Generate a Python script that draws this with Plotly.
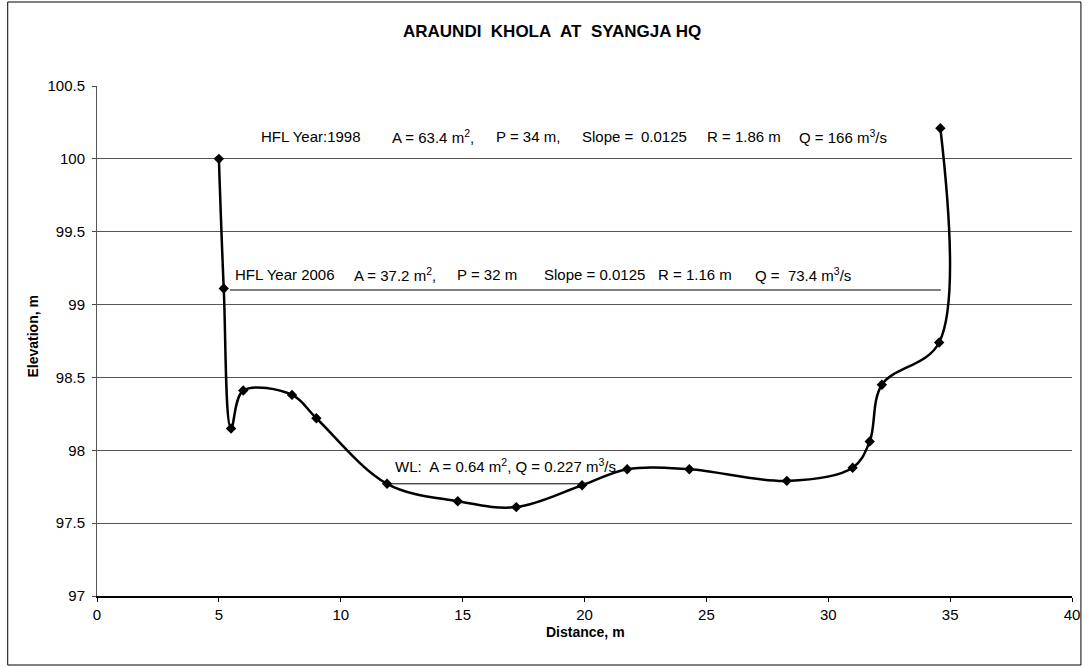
import plotly.graph_objects as go

# ---- data ----
distance = [5.0, 5.2, 5.5, 6.0, 8.0, 9.0, 11.9, 14.8, 17.2, 19.9, 21.75, 24.3,
            28.3, 31.0, 31.7, 32.2, 34.55, 34.6]
elevation = [100.0, 99.11, 98.15, 98.41, 98.38, 98.22, 97.77, 97.65, 97.61, 97.76,
             97.87, 97.87, 97.79, 97.88, 98.06, 98.45, 98.74, 100.21]
hfl2006_x = [5.45, 34.62]
hfl2006_y = [99.10, 99.10]
wl_x = [11.9, 19.9]
wl_y = [97.77, 97.77]

x_ticks = [0, 5, 10, 15, 20, 25, 30, 35, 40]
y_ticks = [97, 97.5, 98, 98.5, 99, 99.5, 100, 100.5]
y_tick_labels = ["97", "97.5", "98", "98.5", "99", "99.5", "100", "100.5"]

title_text = "ARAUNDI&nbsp; KHOLA&nbsp; AT&nbsp; SYANGJA HQ"
row1998 = ["HFL Year:1998", "A = 63.4 m<sup>2</sup>,", "P = 34 m,", "Slope =",
           "0.0125", "R = 1.86 m", "Q = 166 m<sup>3</sup>/s"]
row2006 = ["HFL Year 2006", "A = 37.2 m<sup>2</sup>,", "P = 32 m", "Slope = 0.0125",
           "R = 1.16 m", "Q =&nbsp; 73.4 m<sup>3</sup>/s"]
wl_text = "WL:&nbsp; A = 0.64 m<sup>2</sup>, Q = 0.227 m<sup>3</sup>/s"

# ---- layout geometry (pixels) ----
W, H = 1091, 667
L, R, T, B = 97, 11, 86, 71
PW, PH = W - L - R, H - T - B


def px_x(p):
    return (p - L) / PW


def px_y(p):
    return (H - B - p) / PH


FONT = "Liberation Sans, Arial, sans-serif"

fig = go.Figure()
fig.add_trace(go.Scatter(x=hfl2006_x, y=hfl2006_y, mode="lines",
                         line=dict(color="black", width=1), hoverinfo="skip",
                         showlegend=False))
fig.add_trace(go.Scatter(x=wl_x, y=wl_y, mode="lines",
                         line=dict(color="black", width=1), hoverinfo="skip",
                         showlegend=False))
fig.add_trace(go.Scatter(x=distance, y=elevation, mode="lines+markers",
                         line=dict(color="black", width=2.5, shape="spline", smoothing=1),
                         marker=dict(symbol="diamond", size=8, color="black"),
                         showlegend=False))

annotations = []
annotations.append(dict(text="<b>" + title_text + "</b>", x=px_x(556), y=px_y(32),
                        xref="paper", yref="paper", xanchor="center", yanchor="middle",
                        showarrow=False, font=dict(size=17, family=FONT, color="black")))
annotations.append(dict(text="<b>Distance, m</b>", x=px_x(590), y=px_y(632),
                        xref="paper", yref="paper", xanchor="center", yanchor="middle",
                        showarrow=False, font=dict(size=14, family=FONT, color="black")))
annotations.append(dict(text="<b>Elevation, m</b>", x=px_x(32), y=px_y(337),
                        xref="paper", yref="paper", xanchor="center", yanchor="middle",
                        textangle=-90, showarrow=False,
                        font=dict(size=14, family=FONT, color="black")))

row1998_px = [260, 392.5, 497.5, 584, 643.5, 709.5, 803]
for t, p in zip(row1998, row1998_px):
    annotations.append(dict(text=t, x=px_x(p), y=px_y(136), xref="paper", yref="paper",
                            xanchor="left", yanchor="middle", showarrow=False,
                            font=dict(size=15, family=FONT, color="black")))
row2006_px = [234, 354, 458, 546, 661, 758]
for t, p in zip(row2006, row2006_px):
    annotations.append(dict(text=t, x=px_x(p), y=px_y(274), xref="paper", yref="paper",
                            xanchor="left", yanchor="middle", showarrow=False,
                            font=dict(size=15, family=FONT, color="black")))
annotations.append(dict(text=wl_text, x=px_x(395.5), y=px_y(465), xref="paper", yref="paper",
                        xanchor="left", yanchor="middle", showarrow=False,
                        font=dict(size=15, family=FONT, color="black")))

shapes = [dict(type="rect", xref="paper", yref="paper",
               x0=px_x(7), x1=px_x(1089), y0=px_y(665), y1=px_y(2),
               line=dict(color="black", width=1), fillcolor="rgba(0,0,0,0)", layer="below")]

fig.update_layout(
    width=W, height=H,
    margin=dict(l=L, r=R, t=T, b=B, pad=0),
    paper_bgcolor="white", plot_bgcolor="white",
    font=dict(family=FONT, size=15, color="black"),
    annotations=annotations, shapes=shapes,
    xaxis=dict(range=[0, 40], tickvals=x_ticks, ticks="outside", ticklen=4,
               tickcolor="black", showgrid=False, zeroline=False, showline=True,
               linecolor="black", linewidth=1.5, fixedrange=True,
               tickfont=dict(size=15, family=FONT, color="black")),
    yaxis=dict(range=[97, 100.5], tickvals=y_ticks, ticktext=y_tick_labels,
               ticks="outside", ticklen=4, tickcolor="#444", showgrid=True,
               gridcolor="#555", gridwidth=1, zeroline=False, showline=True,
               linecolor="#555", linewidth=1, fixedrange=True, ticklabelstandoff=4,
               tickfont=dict(size=15, family=FONT, color="black")),
)

fig.write_html("out.html")
